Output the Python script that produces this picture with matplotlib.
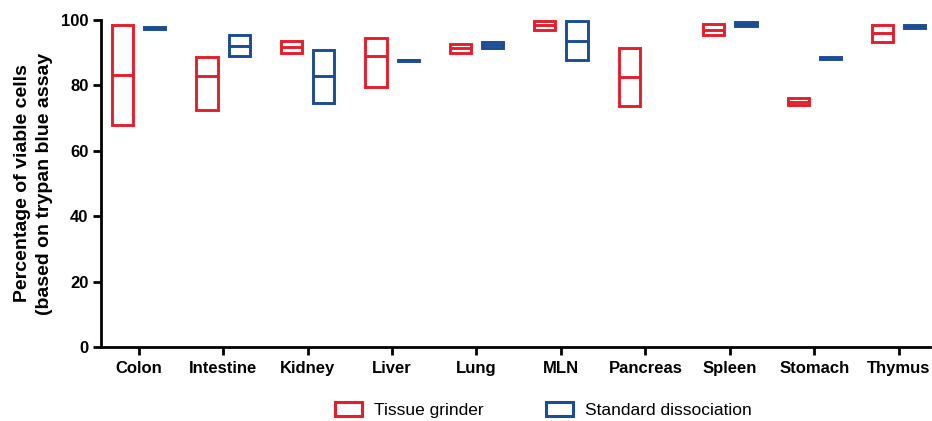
import matplotlib
matplotlib.use("Agg")
import matplotlib.pyplot as plt
import numpy as np
from matplotlib.patches import Rectangle

categories = ["Colon", "Intestine", "Kidney", "Liver", "Lung", "MLN",
              "Pancreas", "Spleen", "Stomach", "Thymus"]

# Tissue grinder: min, max, mean
grinder_min = [67.8, 72.6, 90.0, 79.4, 90.0, 97.0, 73.6, 95.4, 74.0, 93.2]
grinder_max = [98.6, 88.6, 93.5, 94.6, 92.6, 99.6, 91.5, 98.7, 76.0, 98.6]
grinder_mean = [83.2, 82.9, 91.8, 89.0, 91.3, 98.4, 82.5, 96.9, 75.0, 95.9]

# Standard dissociation: min, max, mean (None = not measured)
standard_min = [97.2, 89.0, 74.5, 87.6, 91.4, 87.8, None, 98.2, 88.2, 97.6]
standard_max = [97.8, 95.3, 90.8, 87.9, 93.2, 99.7, None, 99.4, 88.6, 98.4]
standard_mean = [97.5, 92.1, 82.9, 87.75, 92.3, 93.7, None, 98.8, 88.4, 98.0]

series_labels = ["Tissue grinder", "Standard dissociation"]
y_ticks = [0, 20, 40, 60, 80, 100]

RED = "#E41F2B"
BLUE = "#1C4C94"

plt.rcParams['font.family'] = ['Liberation Sans', 'DejaVu Sans']

fig = plt.figure(figsize=(9.32, 4.21), dpi=100)
ax = fig.add_axes([101/932, 1 - 347/421, 1 - 101/932 - 0.002, (347 - 20)/421])

x = np.arange(len(categories))
off = 0.19
w = 0.25
lw = 2.1

def draw(xs, mins, maxs, means, color, label):
    first = True
    for xi, lo, hi, mu in zip(xs, mins, maxs, means):
        if lo is None:
            continue
        ax.bar(xi, hi - lo, bottom=lo, width=w, fill=False, edgecolor=color,
               linewidth=lw, label=label if first else None)
        ax.hlines(mu, xi - w/2, xi + w/2, color=color, linewidth=lw)
        first = False

draw(x - off, grinder_min, grinder_max, grinder_mean, RED, series_labels[0])
draw(x + off, standard_min, standard_max, standard_mean, BLUE, series_labels[1])

ax.set_xlim(-0.445, 9.37)
ax.set_ylim(0, 100)
ax.set_yticks(y_ticks)
ax.set_xticks(x)
ax.set_xticklabels(categories, fontweight='bold', fontsize=12)
for t in ax.get_yticklabels():
    t.set_fontweight('bold')
    t.set_fontsize(12)

for s in ['top', 'right']:
    ax.spines[s].set_visible(False)
for s in ['left', 'bottom']:
    ax.spines[s].set_linewidth(2)
ax.tick_params(axis='both', width=2, length=6, direction='out')
ax.tick_params(axis='x', pad=4)
ax.tick_params(axis='y', pad=3)

ax.set_ylabel("Percentage of viable cells\n(based on trypan blue assay",
              fontweight='bold', fontsize=14, labelpad=6, linespacing=1.35)

handles = [Rectangle((0, 0), 1, 1, fill=False, edgecolor=RED, linewidth=2.2),
           Rectangle((0, 0), 1, 1, fill=False, edgecolor=BLUE, linewidth=2.2)]
fig.legend(handles, series_labels, loc='center', ncol=2, frameon=False,
           bbox_to_anchor=(0.583, 0.026), fontsize=12.5, handlelength=1.55,
           handleheight=0.86, columnspacing=3.6, handletextpad=0.7)

fig.savefig("out.png", dpi=100)
